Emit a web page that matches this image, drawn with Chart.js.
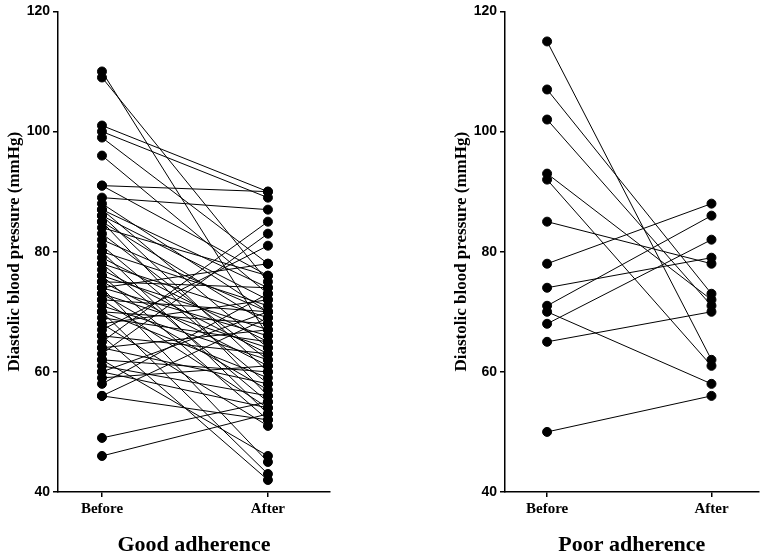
<!DOCTYPE html>
<html lang="en">
<head>
<meta charset="UTF-8">
<title>Diastolic blood pressure by adherence</title>
<script src="https://cdn.jsdelivr.net/npm/chart.js"></script>
<style>
  body { margin: 0; background: #fff; }
  .panel { position: absolute; top: 0; height: 556px; }
</style>
</head>
<body>
<div class="panel" style="left:0;width:340px"><canvas id="goodChart"></canvas></div>
<div class="panel" style="left:447px;width:317px"><canvas id="poorChart"></canvas></div>

<script>
const timeLabels = ['Before', 'After'];

// good adherence: paired readings, before / after
const goodBefore = [110, 109, 101, 100, 99, 96, 91, 91, 89, 88, 87, 87, 86, 86, 85, 85, 84, 83, 82, 81,
                    80, 80, 79, 78, 78, 77, 76, 76, 75, 75, 74, 74, 74, 73, 73, 72, 72, 71, 70, 70,
                    70, 69, 68, 68, 67, 66, 66, 65, 64, 64, 63, 62, 62, 61, 60, 60, 59, 58, 56, 56,
                    49, 46];
const goodAfter  = [66, 75, 90, 89, 78, 73, 90, 76, 87, 70, 74, 64, 72, 60, 68, 56, 76, 62, 70, 58,
                    71, 53, 65, 69, 55, 63, 67, 52, 74, 61, 78, 66, 45, 64, 57, 70, 54, 62, 68, 43,
                    59, 65, 72, 51, 81, 63, 42, 85, 67, 58, 83, 60, 46, 56, 70, 54, 61, 73, 52, 69,
                    55, 53];

// poor adherence
const poorBefore = [115, 107, 102, 93, 92, 85, 78, 74, 71, 70, 68, 65, 50];
const poorAfter  = [62, 73, 71, 72, 61, 78, 88, 79, 86, 58, 82, 70, 56];

function pairSets(before, after) {
  return before.map((b, i) => ({
    data: [{ x: 1, y: b }, { x: 2, y: after[i] }],
    borderColor: '#000',
    backgroundColor: '#000',
    borderWidth: 1,
    pointRadius: 4.5,
    pointHoverRadius: 4.5
  }));
}

function drawPanel(id, before, after, title, xMin, xMax, padRight) {
  new Chart(document.getElementById(id).getContext('2d'), {
    type: 'line',
    data: { datasets: pairSets(before, after) },
    options: {
      responsive: true,
      maintainAspectRatio: false,
      animation: false,
      layout: { padding: { top: 9, right: padRight, left: 0, bottom: 0 } },
      plugins: {
        legend: { display: false },
        tooltip: { enabled: false }
      },
      scales: {
        x: {
          type: 'linear',
          min: xMin,
          max: xMax,
          afterBuildTicks: axis => { axis.ticks = [{ value: 1 }, { value: 2 }]; },
          afterFit: s => { s.height = 64; },
          ticks: {
            color: '#000',
            padding: 3,
            font: { family: 'Liberation Serif', size: 15, weight: 'bold' },
            callback: v => timeLabels[Math.round(v) - 1] || ''
          },
          title: {
            display: true,
            text: title,
            color: '#000',
            font: { family: 'Liberation Serif', size: 22, weight: 'bold', lineHeight: 1 },
            padding: { top: 0, bottom: 0 }
          },
          grid: { drawOnChartArea: false, drawTicks: true, tickLength: 5, color: '#000', lineWidth: 1.5 },
          border: { color: '#000', width: 1.5 }
        },
        y: {
          min: 40,
          max: 120,
          afterFit: s => { s.width = 58; },
          ticks: {
            stepSize: 20,
            color: '#000',
            padding: 3,
            font: { family: 'Liberation Sans', size: 14, weight: 'bold' }
          },
          title: {
            display: true,
            text: 'Diastolic blood pressure (mmHg)',
            color: '#000',
            font: { family: 'Liberation Serif', size: 17, weight: 'bold' },
            padding: { top: 4, bottom: 0 }
          },
          grid: { drawOnChartArea: false, drawTicks: true, tickLength: 5, color: '#000', lineWidth: 1.5 },
          border: { color: '#000', width: 1.5 }
        }
      }
    }
  });
}

drawPanel('goodChart', goodBefore, goodAfter, 'Good adherence', 0.735, 2.374, 10);
drawPanel('poorChart', poorBefore, poorAfter, 'Poor adherence', 0.744, 2.286, 0);
</script>
</body>
</html>
